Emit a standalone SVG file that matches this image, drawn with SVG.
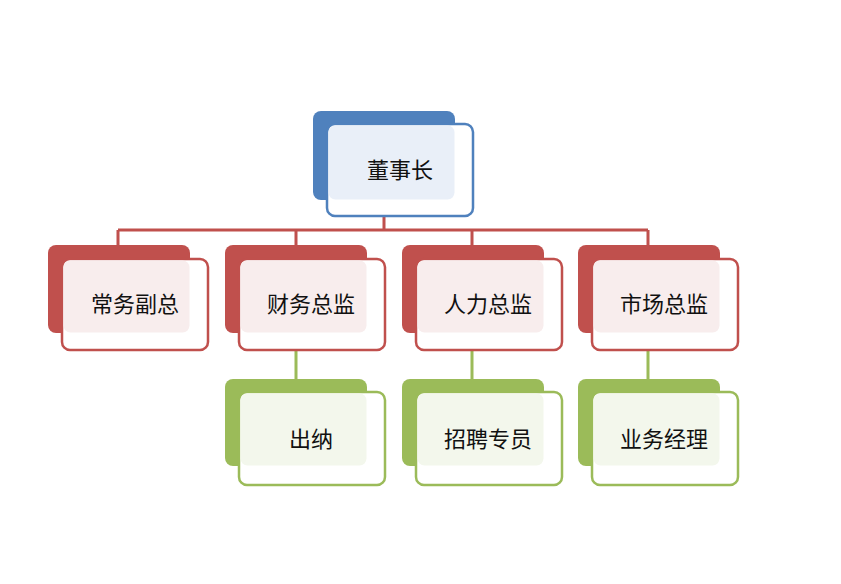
<svg xmlns="http://www.w3.org/2000/svg" width="841" height="584" viewBox="0 0 841 584">
<style>
text{font-family:"Noto Sans CJK SC",sans-serif;font-size:22px;fill:#111;text-anchor:middle;dominant-baseline:central}
.fr{fill:#fff;stroke-width:2.5}
</style>
<rect width="841" height="584" fill="#fff"/>
<g id="connectors" stroke-width="3" fill="none">
<path d="M384 216V230M118 230H648M118 230V245M296 230V245M472 230V245M648 230V245" stroke="#c0504d"/>
<path d="M296 350V379M472 350V379M648 350V379" stroke="#9bbb59"/>
</g>
<g id="n0"><rect x="313" y="111" width="142" height="89" rx="8" fill="#4f81bd"/><rect class="fr" x="327" y="124" width="146" height="92" rx="8" stroke="#4f81bd"/><rect x="328.5" y="125.5" width="126" height="74" rx="7" fill="#e9eff8"/><text x="400" y="168">董事长</text></g>
<g id="n1"><rect x="48" y="245" width="142" height="88" rx="8" fill="#c0504d"/><rect class="fr" x="62" y="259" width="146" height="91" rx="8" stroke="#c0504d"/><rect x="63.5" y="260.5" width="126" height="72" rx="7" fill="#f8eded"/><text x="135" y="302">常务副总</text></g>
<g id="n2"><rect x="225" y="245" width="142" height="88" rx="8" fill="#c0504d"/><rect class="fr" x="239" y="259" width="146" height="91" rx="8" stroke="#c0504d"/><rect x="240.5" y="260.5" width="126" height="72" rx="7" fill="#f8eded"/><text x="311" y="302">财务总监</text></g>
<g id="n3"><rect x="402" y="245" width="142" height="88" rx="8" fill="#c0504d"/><rect class="fr" x="416" y="259" width="146" height="91" rx="8" stroke="#c0504d"/><rect x="417.5" y="260.5" width="126" height="72" rx="7" fill="#f8eded"/><text x="488" y="302">人力总监</text></g>
<g id="n4"><rect x="578" y="245" width="142" height="88" rx="8" fill="#c0504d"/><rect class="fr" x="592" y="259" width="146" height="91" rx="8" stroke="#c0504d"/><rect x="593.5" y="260.5" width="126" height="72" rx="7" fill="#f8eded"/><text x="664" y="302">市场总监</text></g>
<g id="n5"><rect x="225" y="379" width="142" height="87" rx="8" fill="#9bbb59"/><rect class="fr" x="239" y="392" width="146" height="93" rx="8" stroke="#9bbb59"/><rect x="240.5" y="393.5" width="126" height="72" rx="7" fill="#f3f7ec"/><text x="311" y="437">出纳</text></g>
<g id="n6"><rect x="402" y="379" width="142" height="87" rx="8" fill="#9bbb59"/><rect class="fr" x="416" y="392" width="146" height="93" rx="8" stroke="#9bbb59"/><rect x="417.5" y="393.5" width="126" height="72" rx="7" fill="#f3f7ec"/><text x="488" y="437">招聘专员</text></g>
<g id="n7"><rect x="578" y="379" width="142" height="87" rx="8" fill="#9bbb59"/><rect class="fr" x="592" y="392" width="146" height="93" rx="8" stroke="#9bbb59"/><rect x="593.5" y="393.5" width="126" height="72" rx="7" fill="#f3f7ec"/><text x="664" y="437">业务经理</text></g>
</svg>
